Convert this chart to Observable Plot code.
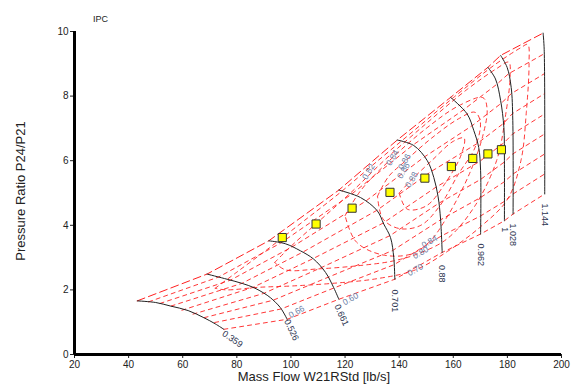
<!DOCTYPE html>
<html><head><meta charset="utf-8">
<script src="https://cdn.jsdelivr.net/npm/d3@7"></script>
<script src="https://cdn.jsdelivr.net/npm/@observablehq/plot@0.6"></script>
<style>body{margin:0;background:#fff;}</style>
</head><body><div id="chart"></div>
<script>
// ---- axes ----
const xTicks = [20,40,60,80,100,120,140,160,180,200];
const yTicks = [0,2,4,6,8,10];
const chartTitle = "IPC";
const xTitle = "Mass Flow W21RStd [lb/s]";
const yTitle = "Pressure Ratio P24/P21";

// ---- speed lines (black) ----
const speedNames = ["0.359","0.526","0.661","0.701","0.88","0.962","1","1.028","1.144"];
const speed1 = [[43.2,1.66],[50,1.61],[55.5,1.50],[62,1.36],[67.8,1.14],[72,0.95],[75.2,0.78]];
const speed2 = [[69.0,2.49],[76.4,2.33],[82,2.20],[86.3,2.07],[90,1.90],[92.4,1.76],[96.1,1.45],[98.6,1.09]];
const speed3 = [[91.8,3.52],[97.9,3.43],[103.5,3.21],[108.3,2.96],[112.8,2.54],[115.8,2.07],[117.7,1.71]];
const speed4 = [[117.7,5.09],[125.7,4.86],[131.9,4.45],[134.3,4.04],[136.8,3.62],[138.0,3.00],[138.4,2.33]];
const speed5 = [[139.3,6.64],[145.4,6.47],[150.4,6.00],[152.8,5.48],[154.4,4.88],[155.3,4.19],[155.9,3.16]];
const speed6 = [[159.0,7.96],[165.1,7.45],[167.6,6.93],[169.4,6.41],[170.1,5.69],[170.1,3.73]];
const speed7 = [[172.8,8.89],[175.6,8.53],[177.5,7.86],[178.7,7.03],[178.9,6.00],[178.9,4.14]];
const speed8 = [[177.5,9.26],[179.9,8.89],[181.4,8.27],[182.0,7.24],[182.1,4.35]];
const speed9 = [[193.2,9.95],[193.6,9.45],[193.8,4.97]];
const speedLabelM  = [78.4,100.2,118.7,138.3,155.9,170.1,178.9,182.1,193.8];
const speedLabelPR = [0.48,0.76,1.22,1.66,2.50,3.09,3.86,3.71,4.33];

// ---- beta lines (red dashed), b0 = surge, b8 = choke ----
const beta0 = [[43.2,1.66],[69.0,2.49],[91.8,3.52],[117.7,5.09],[139.3,6.64],[159.0,7.96],[172.8,8.89],[177.5,9.26],[193.2,9.95]];
const beta1 = [[47.4,1.63],[73.3,2.40],[96.2,3.45],[122.2,4.95],[145.0,6.48],[163.7,7.57],[176.0,8.36],[180.4,8.69],[193.8,9.32]];
const beta2 = [[51.6,1.58],[77.6,2.30],[100.4,3.33],[127.5,4.74],[149.2,6.11],[166.9,7.08],[177.6,7.77],[181.5,8.08],[193.8,8.70]];
const beta3 = [[55.7,1.50],[81.8,2.20],[104.4,3.17],[131.7,4.46],[151.9,5.67],[169.0,6.54],[178.5,7.15],[181.9,7.46],[193.8,8.08]];
const beta4 = [[59.7,1.37],[86.0,2.08],[108.2,2.97],[134.1,4.07],[153.6,5.18],[169.8,5.98],[178.8,6.56],[182.0,6.83],[193.8,7.45]];
const beta5 = [[63.8,1.25],[89.9,1.89],[111.2,2.69],[136.6,3.68],[154.6,4.68],[170.1,5.42],[178.9,5.96],[182.0,6.21],[193.8,6.83]];
const beta6 = [[67.9,1.14],[93.4,1.68],[113.7,2.39],[137.6,3.22],[155.3,4.17],[170.1,4.86],[178.9,5.35],[182.1,5.59],[193.8,6.21]];
const beta7 = [[71.8,0.99],[96.4,1.41],[115.9,2.06],[138.1,2.78],[155.6,3.67],[170.1,4.29],[178.9,4.74],[182.1,4.97],[193.8,5.59]];
const beta8 = [[75.2,0.78],[98.6,1.09],[117.7,1.71],[138.4,2.33],[155.9,3.16],[170.1,3.73],[178.9,4.14],[182.1,4.35],[193.8,4.97]];

// ---- efficiency contours (red dashed loops) ----
const eff070 = [[72,2.05],[80,2.55],[92,3.3],[105,4.15],[118,5.0],[130,5.85],[145,6.9],[160,7.95],[175,8.95],[185,9.5],[187.5,9.6],[188,9.0],[187,7.5],[185,6.0],[180,4.8],[170,3.95],[158,3.2],[146,2.62],[132,2.35],[115,2.2],[100,2.12],[88,2.08],[76,2.0],[72,2.05]];
const eff080 = [[94,2.85],[100,3.35],[110,4.1],[122,5.0],[135,6.05],[150,7.15],[165,8.2],[176,8.85],[180.5,9.05],[181,8.6],[179.5,7.5],[176,6.0],[168,4.6],[158,3.6],[147.9,3.15],[138,2.9],[125,2.75],[110,2.65],[98,2.62],[94,2.85]];
const eff084 = [[120,4.3],[126,5.1],[137.5,6.09],[150,7.0],[162,7.7],[171,7.95],[172.5,7.6],[171,6.8],[166,5.6],[158,4.3],[151.2,3.49],[144,3.1],[133,3.1],[124,3.5],[120,4.3]];
const eff086 = [[132,4.9],[136,5.5],[142,5.97],[152,6.7],[162,7.3],[168,7.5],[170,7.2],[168,6.4],[162,5.6],[155,4.6],[148,4.0],[140,3.9],[134,4.2],[132,4.9]];
const eff088 = [[140,5.0],[144.6,5.41],[152,6.0],[160,6.6],[164,6.7],[163,6.2],[157,5.3],[150,4.6],[143,4.5],[140,5.0]];
const effLowText = ["0.60","0.66","0.70","0.80","0.84"];
const effLowM    = [122.0,102.1,146.0,147.9,151.2];
const effLowPR   = [1.72,1.32,2.62,3.15,3.49];
const effHighText = ["0.82","0.84","0.86","0.86","0.88"];
const effHighM    = [128.7,137.5,142.0,141.6,144.6];
const effHighPR   = [5.66,6.09,5.97,5.69,5.41];

// ---- operating points (yellow squares) ----
const opM  = [96.8,109.3,122.6,136.6,149.5,159.3,167.2,172.8,177.8];
const opPR = [3.62,4.04,4.53,5.02,5.46,5.82,6.07,6.21,6.34];

// ---- tables ----
const toRows = (lines, keys) => lines.flatMap((pts,i)=>pts.map(([m,pr])=>({m,pr,k:keys[i]})));
const speedRows = toRows([speed1,speed2,speed3,speed4,speed5,speed6,speed7,speed8,speed9], speedNames);
const surgeRows = toRows([beta0], ["surge"]);
const betaRows = toRows([beta1,beta2,beta3,beta4,beta5,beta6,beta7,beta8], d3.range(1,9));
const effRows = toRows([eff070,eff080,eff084,eff086,eff088], ["0.70","0.80","0.84","0.86","0.88"]);
const opRows = opM.map((m,i)=>({m,pr:opPR[i]}));
const sLab = speedNames.map((t,i)=>({t,m:speedLabelM[i],pr:speedLabelPR[i]}));
const lowLab = effLowText.map((t,i)=>({t,m:effLowM[i],pr:effLowPR[i]}));
const highLab = effHighText.map((t,i)=>({t,m:effHighM[i],pr:effHighPR[i]}));

const font = "'Liberation Sans', Arial, sans-serif";
const red = "#ff2020";
const chart = Plot.plot({
  width: 572, height: 388,
  marginTop: 31, marginRight: 11, marginBottom: 34, marginLeft: 74,
  x: {domain: [20, 200]},
  y: {domain: [0, 10]},
  style: {fontFamily: font, fontSize: "10px", background: "#fff", color: "#222"},
  marks: [
    Plot.line(effRows, {x:"m", y:"pr", z:"k", stroke:red, strokeWidth:0.9, strokeDasharray:"4,4", curve:"catmull-rom"}),
    Plot.line(betaRows, {x:"m", y:"pr", z:"k", stroke:red, strokeWidth:0.9, strokeDasharray:"4,4"}),
    Plot.line(surgeRows, {x:"m", y:"pr", z:"k", stroke:red, strokeWidth:1, strokeDasharray:"8,4"}),
    Plot.line(speedRows, {x:"m", y:"pr", z:"k", stroke:"#222", strokeWidth:1, curve:"catmull-rom"}),
    Plot.axisX({ticks: xTicks, tickSize: 4, tickPadding: 2, label: null, fontSize: 10}),
    Plot.axisY({ticks: yTicks, tickSize: 4, tickPadding: 2, label: null, fontSize: 10}),
    Plot.ruleX([20], {stroke:"#000", strokeWidth:3}),
    Plot.ruleY([0], {stroke:"#000", strokeWidth:3}),
    Plot.dot(opRows, {x:"m", y:"pr", symbol:"square", r:4.6, fill:"#ffff00", stroke:"#333", strokeWidth:1}),
    Plot.text(sLab.slice(0,1), {x:"m", y:"pr", text:"t", rotate:35, fontSize:9, fill:"#2b3350"}),
    Plot.text(sLab.slice(1,3), {x:"m", y:"pr", text:"t", rotate:65, fontSize:9, fill:"#2b3350"}),
    Plot.text(sLab.slice(3), {x:"m", y:"pr", text:"t", rotate:90, fontSize:9, fill:"#2b3350"}),
    Plot.text(lowLab, {x:"m", y:"pr", text:"t", rotate:-30, fontSize:8.5, fill:"#6a7ea6"}),
    Plot.text(highLab, {x:"m", y:"pr", text:"t", rotate:-60, fontSize:8.5, fill:"#6a7ea6"}),
    Plot.text([chartTitle], {frameAnchor:"top-left", dx:26, dy:-16, textAnchor:"middle", fontSize:9, fill:"#222"}),
    Plot.text([xTitle], {frameAnchor:"bottom", dx:-4, dy:26, textAnchor:"middle", fontSize:13, fill:"#222"}),
    Plot.text([yTitle], {frameAnchor:"left", dx:-54, dy:-2, rotate:-90, textAnchor:"middle", fontSize:13, fill:"#222"})
  ]
});
document.getElementById("chart").append(chart);
</script>
</body></html>
